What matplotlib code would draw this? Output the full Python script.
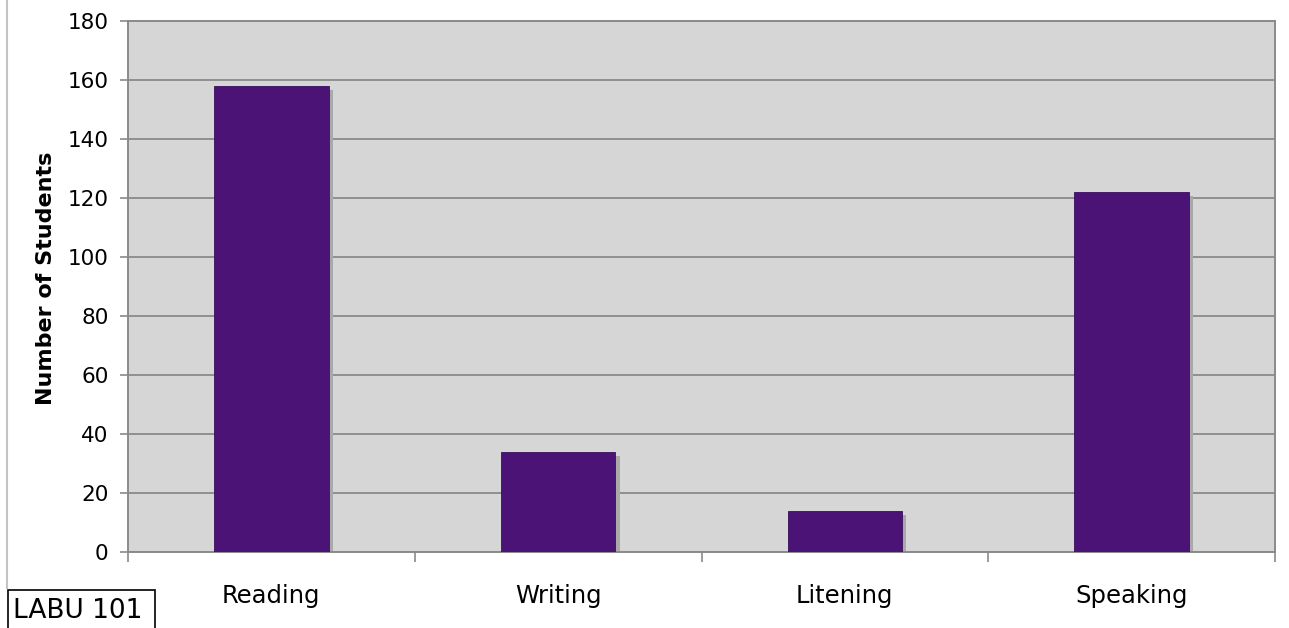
import matplotlib
matplotlib.use("Agg")
import matplotlib.pyplot as plt
import matplotlib.transforms as mtransforms
from matplotlib.patches import Rectangle
from matplotlib.lines import Line2D

skills = ["Reading", "Writing", "Litening", "Speaking"]
students = [158, 34, 14, 122]
y_ticks = [0, 20, 40, 60, 80, 100, 120, 140, 160, 180]

W, H = 1289, 628
fig = plt.figure(figsize=(W / 100, H / 100), dpi=100)
ax = fig.add_axes([128 / W, 1 - 552 / H, (1275 - 128) / W, (552 - 21) / H])

bar_color = "#4c1377"
x = list(range(len(skills)))

# shadow behind the bars, shifted a little right/down
shadow_tr = mtransforms.offset_copy(ax.transData, fig=fig, x=3, y=-3, units="points")
ax.bar(x, students, width=0.4, color="#a9a9a9", transform=shadow_tr, zorder=2)
ax.bar(x, students, width=0.4, color=bar_color, edgecolor="#3a0d5e", linewidth=0.6, zorder=3)

ax.set_facecolor("#d6d6d6")
ax.set_xlim(-0.5, 3.5)
ax.set_ylim(0, 180)
ax.set_yticks(y_ticks)
ax.yaxis.grid(True, color="#8a8a8a", linewidth=1.3)
ax.set_axisbelow(True)

ax.set_xticks(x)
ax.set_xticklabels(skills, fontsize=17.5)
ax.tick_params(axis="x", length=0, pad=23)
ax.set_xticks([-0.5, 0.5, 1.5, 2.5, 3.5], minor=True)
ax.tick_params(axis="x", which="minor", length=7, color="#8a8a8a", width=1.2)
ax.tick_params(axis="y", labelsize=15.5, length=6, color="#8a8a8a", width=1.2, pad=8)

for side in ax.spines.values():
    side.set_color("#8a8a8a")
    side.set_linewidth(1.4)

ax.set_ylabel("Number of Students", fontsize=16, fontweight="bold")
ax.yaxis.set_label_coords(-0.063, 0.515)

# left border line of the slide area
fig.add_artist(Line2D([7 / W, 7 / W], [1 - 588 / H, 1.0], color="#c4c4c4", linewidth=1.5))

# label box in the bottom-left corner
fig.add_artist(Rectangle((8 / W, -0.05), 147 / W, 0.05 + (H - 590) / H,
                         transform=fig.transFigure, facecolor="white",
                         edgecolor="black", linewidth=1.2))
fig.text(13 / W, 1 - 611 / H, "LABU 101", fontsize=19, va="center", ha="left")

fig.savefig("out.png", dpi=100)
